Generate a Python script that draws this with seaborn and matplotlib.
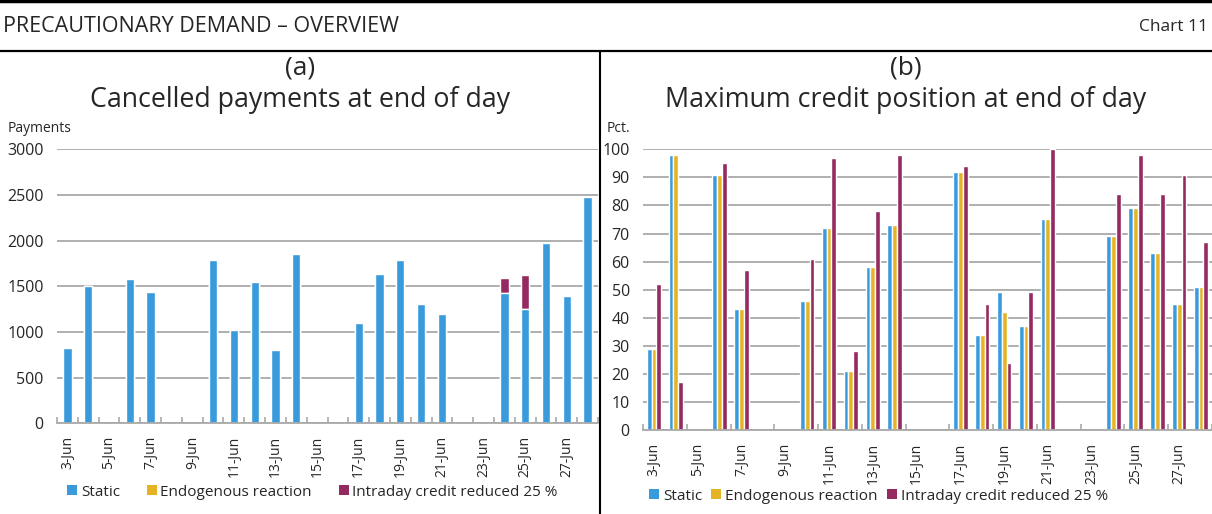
import numpy as np
import pandas as pd
import matplotlib
matplotlib.use("Agg")
import matplotlib.pyplot as plt
from matplotlib.lines import Line2D
from matplotlib.patches import Patch
import seaborn as sns

# Business days of June (weekends left empty)
days = [f"{d}-Jun" for d in range(3, 29)]
series = ["Static", "Endogenous reaction", "Intraday credit reduced 25 %"]
colors = ["#3a9bdc", "#e5b425", "#952a60"]

nan = np.nan
# (a) Cancelled payments at end of day, stacked by scenario
cancel_static = [820, 1500, nan, 1580, 1440, nan, nan, 1790, 1020, 1550, 800, 1850, nan, nan,
                 1095, 1640, 1790, 1310, 1200, nan, nan, 1430, 1250, 1970, 1390, 2480]
cancel_endog = [0, 0, nan, 0, 0, nan, nan, 0, 0, 0, 0, 0, nan, nan,
                0, 0, 10, 0, 0, nan, nan, 0, 0, 0, 0, 0]
cancel_intraday = [20, 0, nan, 10, 0, nan, nan, 0, 0, 0, 0, 0, nan, nan,
                   5, 0, 0, 0, 0, nan, nan, 160, 370, 0, 0, 0]

# (b) Maximum credit position at end of day, per cent
credit_static = [29, 98, nan, 91, 43, nan, nan, 46, 72, 21, 58, 73, nan, nan,
                 92, 34, 49, 37, 75, nan, nan, 69, 79, 63, 45, 51]
credit_endog = [29, 98, nan, 91, 43, nan, nan, 46, 72, 21, 58, 73, nan, nan,
                92, 34, 42, 37, 75, nan, nan, 69, 79, 63, 45, 51]
credit_intraday = [52, 17, nan, 95, 57, nan, nan, 61, 97, 28, 78, 98, nan, nan,
                   94, 45, 24, 49, 100, nan, nan, 84, 98, 84, 91, 67]

FONT = "Open Sans"
sns.set_theme(style="white")
plt.rcParams["font.family"] = [FONT, "DejaVu Sans"]
GRID = "#a9a9a9"

W, H = 1212, 514
fig = plt.figure(figsize=(W / 100, H / 100), dpi=100)


def fx(px):
    return px / W


def fy(py):
    return 1 - py / H


def style_axes(ax, ymax, ystep, minor_step, label_pad):
    ax.set_xlim(-0.5, len(days) - 0.5)
    ax.set_ylim(0, ymax)
    ax.set_yticks(np.arange(0, ymax + 1, ystep))
    ax.yaxis.grid(True, color=GRID, lw=1.3)
    ax.set_axisbelow(True)
    for s in ["top", "right", "left"]:
        ax.spines[s].set_visible(False)
    ax.spines["bottom"].set_color(GRID)
    ax.spines["bottom"].set_linewidth(1.3)
    major = np.arange(0, len(days), 2)
    ax.set_xticks(major)
    ax.set_xticklabels([days[i] for i in major], rotation=90, fontsize=10)
    ax.set_xticks(np.arange(-0.5, len(days), minor_step), minor=True)
    ax.tick_params(axis="x", which="major", length=0, pad=label_pad)
    ax.tick_params(axis="x", which="minor", length=4, direction="in",
                   color=GRID, width=1.2, bottom=True)
    ax.tick_params(axis="y", length=0, labelsize=11.5, pad=9.5)
    ax.set_xlabel("")
    ax.set_ylabel("")


# ---- Panel (a): stacked bars ----
ax1 = fig.add_axes([fx(57), fy(423.3), fx(598 - 57), (423.3 - 149.3) / H])
s = np.array(cancel_static, dtype=float)
e = np.array(cancel_endog, dtype=float)
i = np.array(cancel_intraday, dtype=float)
stack_layers = [s + e + i, s + e, s]
for heights, col in zip(stack_layers, colors[::-1]):
    sns.barplot(x=days, y=heights, order=days, color=col, width=0.4,
                saturation=1, ax=ax1, errorbar=None)
style_axes(ax1, 3000, 500, 1, 9)

# ---- Panel (b): grouped bars ----
ax2 = fig.add_axes([fx(643), fy(430), fx(1212 - 643), (430 - 149.3) / H])
credit = pd.DataFrame({
    "day": days * 3,
    "series": np.repeat(series, len(days)),
    "value": credit_static + credit_endog + credit_intraday,
})
sns.barplot(data=credit, x="day", y="value", hue="series", order=days,
            hue_order=series, palette=colors, width=0.66, saturation=1,
            ax=ax2, errorbar=None, legend=False)
for p in ax2.patches:
    p.set_clip_on(False)
style_axes(ax2, 100, 10, 2, 9)

# ---- legends ----
handles = [Patch(facecolor=c, edgecolor="none") for c in colors]
for x0, yc, fs, colsp in [(67, 492, 11, 1.75), (649, 496, 11.1, 0.6)]:
    fig.legend(handles, series, loc="center left",
               bbox_to_anchor=(fx(x0), fy(yc)), ncol=3, frameon=False,
               fontsize=fs, handlelength=0.65, handleheight=0.65,
               handletextpad=0.25, columnspacing=colsp, borderpad=0,
               borderaxespad=0)

# ---- titles and headings ----
fig.text(fx(3), fy(27), "PRECAUTIONARY DEMAND – OVERVIEW", fontsize=15.5,
         ha="left", va="center")
fig.text(fx(1208), fy(27), "Chart 11", fontsize=12.5, ha="right", va="center")
for cx, tag, title in [(300, "(a)", "Cancelled payments at end of day"),
                       (906, "(b)", "Maximum credit position at end of day")]:
    fig.text(fx(cx), fy(68), tag, fontsize=19, ha="center", va="center")
    fig.text(fx(cx), fy(100), title, fontsize=19.3, ha="center", va="center")
fig.text(fx(8), fy(128), "Payments", fontsize=10, ha="left", va="center")
fig.text(fx(607), fy(128), "Pct.", fontsize=10, ha="left", va="center")

# ---- frame rules ----
fig.add_artist(Line2D([0, 1], [fy(1), fy(1)], color="black", lw=2.5))
fig.add_artist(Line2D([0, 1], [fy(51), fy(51)], color="black", lw=1.6))
fig.add_artist(Line2D([fx(600), fx(600)], [0, fy(51)], color="black", lw=1.5))

fig.savefig("out.png", dpi=100)
